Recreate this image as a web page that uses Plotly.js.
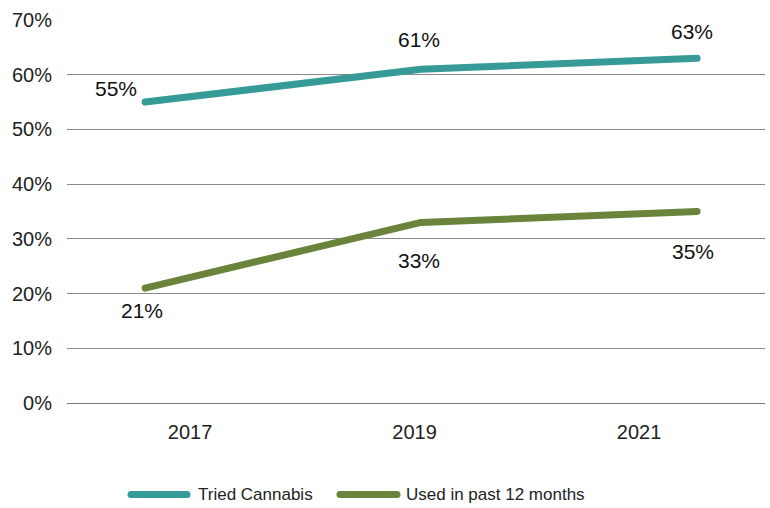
<!DOCTYPE html>
<html>
<head>
<meta charset="utf-8">
<script src="https://cdn.plot.ly/plotly-3.0.1.min.js"></script>
<style>
  html, body { margin: 0; padding: 0; background: #fff; }
  #chart { width: 770px; height: 508px; }
  /* rounded ends on the series lines and legend swatches */
  #chart .scatterlayer path.js-line,
  #chart .shapelayer path { stroke-linecap: round; stroke-linejoin: round; }
</style>
</head>
<body>
<div id="chart"></div>
<script>
// Survey years and the share of respondents (%)
const years = ['2017', '2019', '2021'];
const triedCannabis = [55, 61, 63];
const usedPast12Months = [21, 33, 35];
const seriesNames = ['Tried Cannabis', 'Used in past 12 months'];
const yTickVals = [0, 10, 20, 30, 40, 50, 60, 70];

const teal = '#369b97';
const olive = '#6a843c';
const font = 'Liberation Sans, Arial, sans-serif';

const traces = [
  {
    x: years, y: triedCannabis, name: seriesNames[0],
    type: 'scatter', mode: 'lines',
    line: { color: teal, width: 7 },
    showlegend: false, hoverinfo: 'skip'
  },
  {
    x: years, y: usedPast12Months, name: seriesNames[1],
    type: 'scatter', mode: 'lines',
    line: { color: olive, width: 7 },
    showlegend: false, hoverinfo: 'skip'
  },
  // carries the year labels on the band-centred axis
  {
    x: years, y: years.map(() => null), xaxis: 'x2',
    type: 'scatter', mode: 'lines', showlegend: false, hoverinfo: 'skip'
  }
];

// value labels: above the upper series, below the lower one
const labelShifts = {
  top: [{ dx: -29, dy: 14 }, { dx: -2, dy: 30 }, { dx: -5, dy: 27 }],
  low: [{ dx: -3, dy: -22 }, { dx: -2, dy: -38 }, { dx: -4, dy: -40 }]
};
const labelFont = { family: font, size: 21, color: '#111' };
const annotations = [];
years.forEach((yr, i) => {
  annotations.push({
    x: i, y: triedCannabis[i], xref: 'x', yref: 'y',
    text: triedCannabis[i] + '%', showarrow: false,
    xshift: labelShifts.top[i].dx, yshift: labelShifts.top[i].dy,
    font: labelFont
  });
  annotations.push({
    x: i, y: usedPast12Months[i], xref: 'x', yref: 'y',
    text: usedPast12Months[i] + '%', showarrow: false,
    xshift: labelShifts.low[i].dx, yshift: labelShifts.low[i].dy,
    font: labelFont
  });
});

// legend row below the plot: long rounded swatch + series name
const px = v => (v - 67) / 698;          // pixel column -> paper x
const legendY = (403.5 - 495) / 383.5;   // pixel row -> paper y
const legendItems = [
  { x0: px(131), x1: px(187), tx: px(196), color: teal, name: seriesNames[0] },
  { x0: px(340), x1: px(397), tx: px(404), color: olive, name: seriesNames[1] }
];
const shapes = [];
legendItems.forEach(it => {
  shapes.push({
    type: 'line', xref: 'paper', yref: 'paper',
    x0: it.x0, x1: it.x1, y0: legendY, y1: legendY,
    line: { color: it.color, width: 7 }
  });
  annotations.push({
    x: it.tx, y: legendY, xref: 'paper', yref: 'paper',
    xanchor: 'left', yanchor: 'middle', showarrow: false,
    text: it.name, font: { family: font, size: 17, color: '#222' }
  });
});

const layout = {
  width: 770, height: 508,
  margin: { l: 67, r: 5, t: 20, b: 105, pad: 0 },
  paper_bgcolor: '#fff', plot_bgcolor: '#fff',
  font: { family: font, color: '#222' },
  showlegend: false,
  xaxis: {
    type: 'category', range: [-0.283, 2.246],
    showticklabels: false, showgrid: false, zeroline: false, showline: false,
    fixedrange: true
  },
  xaxis2: {
    type: 'category', overlaying: 'x', side: 'bottom',
    range: [-0.548, 2.561],
    showgrid: false, zeroline: false, showline: false,
    ticks: '', ticklabelstandoff: 15,
    tickfont: { family: font, size: 20, color: '#222' },
    fixedrange: true
  },
  yaxis: {
    range: [0, 70], tickvals: yTickVals,
    ticktext: yTickVals.map(v => v + '%'),
    showgrid: true, gridcolor: '#8a8a8a', gridwidth: 1,
    zeroline: true, zerolinecolor: '#777', zerolinewidth: 1,
    showline: false, ticks: '', ticklabelstandoff: 14,
    tickfont: { family: font, size: 20, color: '#222' },
    fixedrange: true
  },
  shapes: shapes,
  annotations: annotations
};

Plotly.newPlot('chart', traces, layout, { staticPlot: true, displayModeBar: false })
  .catch(e => { document.body.insertAdjacentText('beforeend', String(e)); });
</script>
</body>
</html>
